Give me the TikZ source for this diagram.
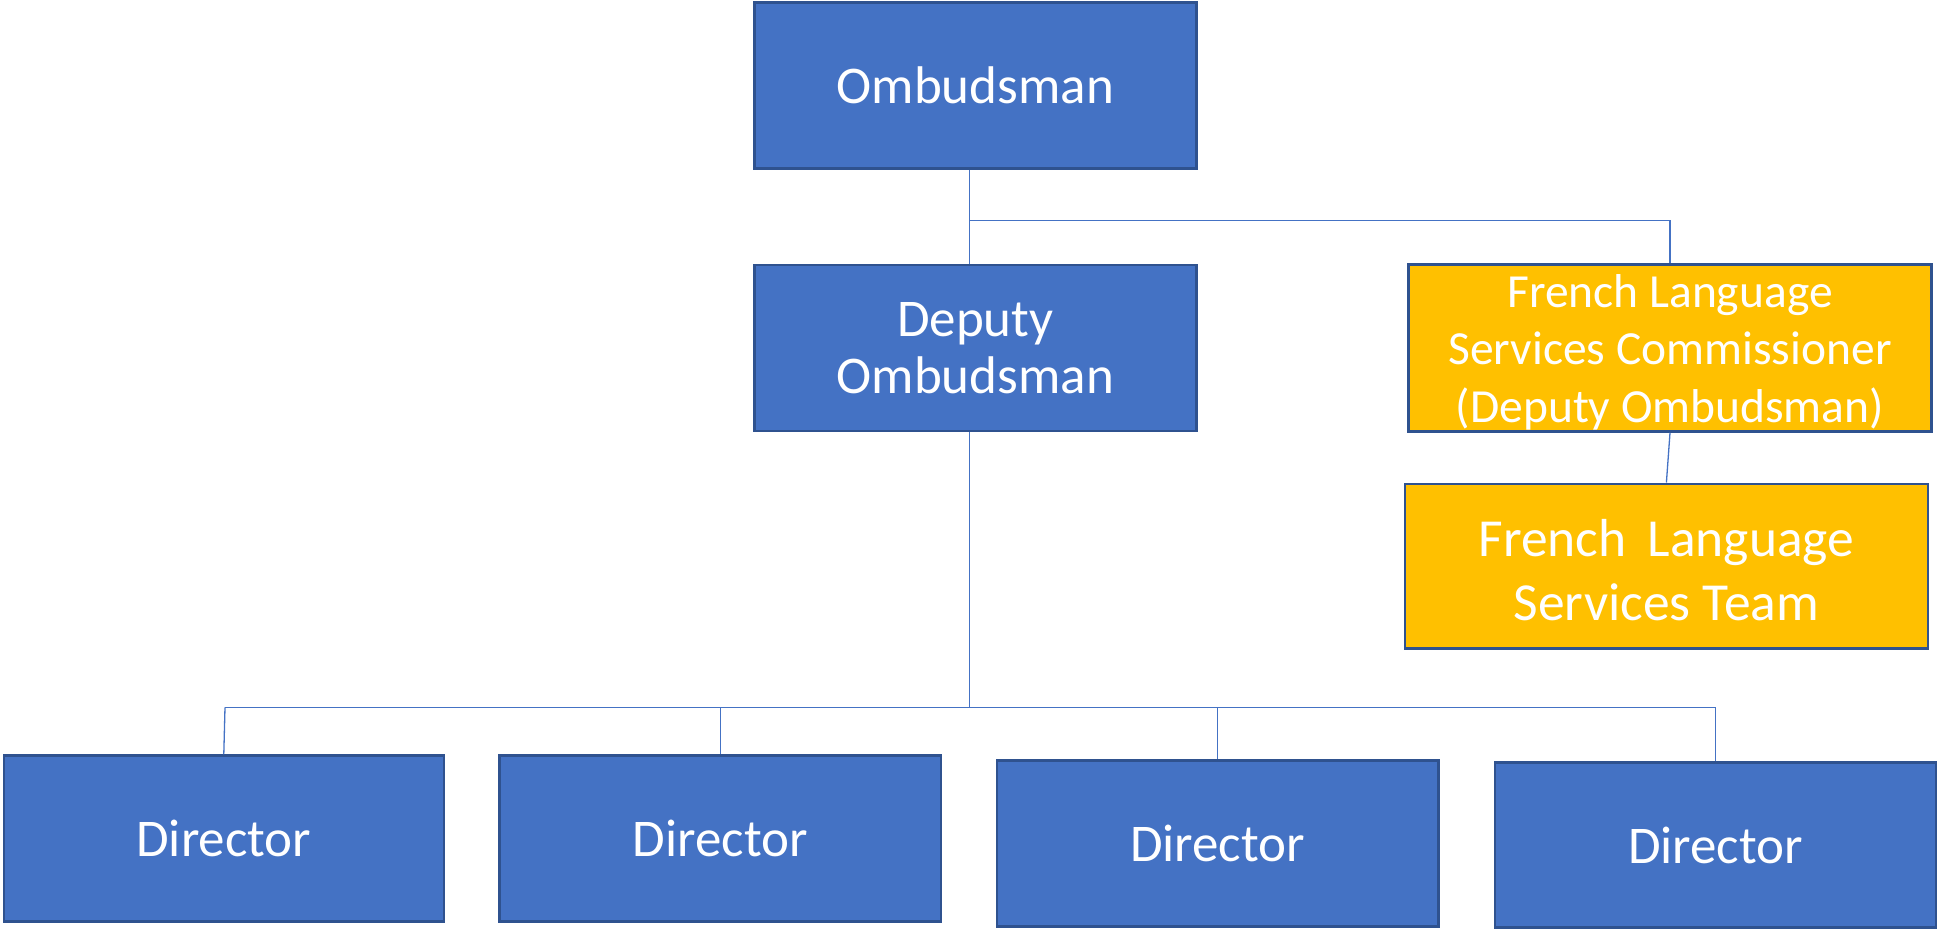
\documentclass[tikz,border=0pt]{standalone}
\usepackage{fontspec}
\setmainfont{Carlito}
\definecolor{boxblue}{HTML}{4472C4}
\definecolor{edgeblue}{HTML}{2F528F}
\definecolor{boxgold}{HTML}{FFC000}
\newcommand{\lowered}[2]{\raisebox{#1}[\dimexpr\height-8pt\relax][\dimexpr\depth-8pt\relax]{\begin{tabular}{@{}c@{}}#2\end{tabular}}}
\begin{document}
\begin{tikzpicture}[x=1pt,y=-1pt,
  bluebox/.style={draw=edgeblue, line width=2.5pt, fill=boxblue, text=white, inner sep=0pt, align=center,
    font=\fontsize{53}{57}\selectfont},
  goldbox/.style={draw=edgeblue, line width=2.5pt, fill=boxgold, text=white, inner sep=0pt},
  conn/.style={draw=boxblue, line width=1.3pt}]
\useasboundingbox (0,0) rectangle (1939,929);
\node[bluebox, minimum width=442pt, minimum height=166pt] (omb) at (975.3,85.5) {Ombudsman};
\node[bluebox, minimum width=442pt, minimum height=166pt] (dep) at (975.3,348) {Deputy\\Ombudsman};
\node[goldbox, minimum width=523pt, minimum height=167pt, font=\fontsize{47.5}{57.5}\selectfont] (flsc) at (1670,348)
  {\lowered{-5pt}{French Language\\Services Commissioner\\(Deputy Ombudsman)}};
\node[goldbox, minimum width=523pt, minimum height=164.5pt, font=\fontsize{53.5}{64}\selectfont] (flst) at (1666.4,566)
  {\lowered{-9.5pt}{French\hspace{0.4em}Language\\Services Team}};
\node[bluebox, minimum width=440pt, minimum height=166pt] (d1) at (223.8,838.5) {Director};
\node[bluebox, minimum width=441.5pt, minimum height=166pt] (d2) at (720.3,838.5) {Director};
\node[bluebox, minimum width=441.5pt, minimum height=166pt] (d3) at (1217.5,843.5) {Director};
\node[bluebox, minimum width=441pt, minimum height=165pt] (d4) at (1715.5,845) {Director};
\coordinate (j1) at (969.3,220.7);
\coordinate (b) at (969.3,707.3);
\coordinate (bl) at (225,707.3);
\draw[conn] (omb.south -| j1) -- (dep.north -| j1);
\draw[conn] (j1) -| (flsc.north);
\draw[conn] (flsc.south) -- (flst.north);
\draw[conn] (dep.south -| b) -- (b);
\draw[conn] (bl) -- (d4.north |- b) -- (d4.north);
\draw[conn] (bl) -- (d1.north);
\draw[conn] (d2.north |- b) -- (d2.north);
\draw[conn] (d3.north |- b) -- (d3.north);
\end{tikzpicture}
\end{document}
